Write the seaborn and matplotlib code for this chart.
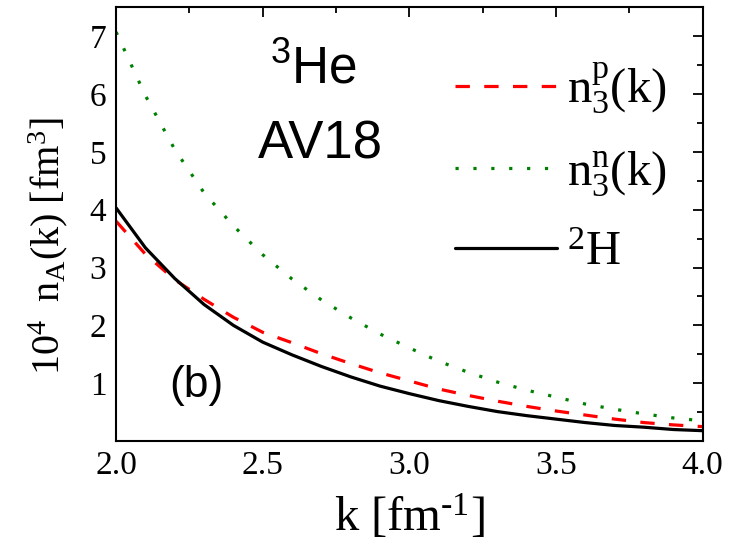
import numpy as np
import pandas as pd
import matplotlib
matplotlib.use("Agg")
import matplotlib.pyplot as plt
from matplotlib.ticker import MultipleLocator
import seaborn as sns

# valores (k em fm^-1, 10^4 n_A(k) em fm^3)
k = [2.0, 2.1, 2.2, 2.3, 2.4, 2.5, 2.6, 2.7, 2.8, 2.9, 3.0,
     3.1, 3.2, 3.3, 3.4, 3.5, 3.6, 3.7, 3.8, 3.9, 4.0]
n3_p = [3.80, 3.23, 2.79, 2.45, 2.14, 1.88, 1.70, 1.51, 1.34, 1.18, 1.04,
        0.90, 0.79, 0.69, 0.60, 0.52, 0.45, 0.38, 0.32, 0.28, 0.25]
n3_n = [7.07, 5.97, 5.04, 4.29, 3.72, 3.22, 2.80, 2.44, 2.13, 1.85, 1.61,
        1.38, 1.19, 1.02, 0.88, 0.76, 0.64, 0.55, 0.47, 0.40, 0.35]
h2 = [4.03, 3.34, 2.81, 2.36, 2.00, 1.71, 1.49, 1.29, 1.11, 0.95, 0.82,
      0.70, 0.60, 0.51, 0.44, 0.38, 0.32, 0.27, 0.24, 0.20, 0.18]

labels = [r'$\mathregular{n_3^p(k)}$', r'$\mathregular{n_3^n(k)}$', r'$\mathregular{^2H}$']

sns.set_style("white", {'text.color': 'black', 'xtick.color': 'black',
                        'ytick.color': 'black', 'axes.labelcolor': 'black'})
plt.rcParams['font.family'] = ['Liberation Serif', 'DejaVu Serif']
plt.rcParams['mathtext.fontset'] = 'custom'
plt.rcParams['mathtext.rm'] = 'Liberation Serif'
plt.rcParams['mathtext.it'] = 'Liberation Serif:italic'
plt.rcParams['mathtext.sf'] = 'Liberation Sans'

df = pd.DataFrame({'k': k, 'p': n3_p, 'n': n3_n, 'h': h2})

fig = plt.figure(figsize=(7.54, 5.5), dpi=100)
ax = fig.add_axes([0.154, 0.198, 0.778, 0.789])

sns.lineplot(data=df, x='k', y='p', ax=ax, color='#ff0000', lw=2.3,
             label=labels[0], linestyle=(0, (4.5, 4.5)))
sns.lineplot(data=df, x='k', y='n', ax=ax, color='#008000', lw=2.3,
             label=labels[1], linestyle=(0, (1.0, 4.6)))
sns.lineplot(data=df, x='k', y='h', ax=ax, color='black', lw=2.3,
             label=labels[2])

ax.set_xlim(2.0, 4.0)
ax.set_ylim(0, 7.5)
ax.xaxis.set_major_locator(MultipleLocator(0.5))
ax.xaxis.set_minor_locator(MultipleLocator(0.25))
ax.set_yticks([1, 2, 3, 4, 5, 6, 7])
ax.yaxis.set_minor_locator(MultipleLocator(0.5))
ax.tick_params(which='both', direction='in', top=True, right=True, width=1.3,
               color='black', labelcolor='black')
ax.tick_params(which='major', length=7, labelsize=24, pad=7)
ax.tick_params(which='minor', length=4)
for s in ax.spines.values():
    s.set_linewidth(1.5)
    s.set_color('black')

ax.set_xlabel(r'$\mathregular{k\ [fm^{\text{-}1}]}$', fontsize=35, labelpad=8)
ax.set_ylabel(r'$\mathregular{10^4\;\ n_A(k)\ [fm^3]}$', fontsize=29)
ax.yaxis.set_label_coords(-0.078, 0.45)

# textos dentro do gráfico
ax.text(0.337, 0.825, r'$\mathsf{^3He}$', transform=ax.transAxes, ha='center',
        va='baseline', fontsize=37)
ax.text(0.349, 0.652, 'AV18', transform=ax.transAxes, ha='center',
        va='baseline', fontsize=38, family='Liberation Sans')
ax.text(0.136, 0.101, '(b)', transform=ax.transAxes, ha='center',
        va='baseline', fontsize=32, family='Liberation Sans')

ax.legend(loc='upper left', bbox_to_anchor=(0.545, 0.922), frameon=False,
          fontsize=35, handlelength=2.1, handletextpad=0.2, labelspacing=0.68,
          borderaxespad=0)

plt.savefig('out.png', dpi=100)
